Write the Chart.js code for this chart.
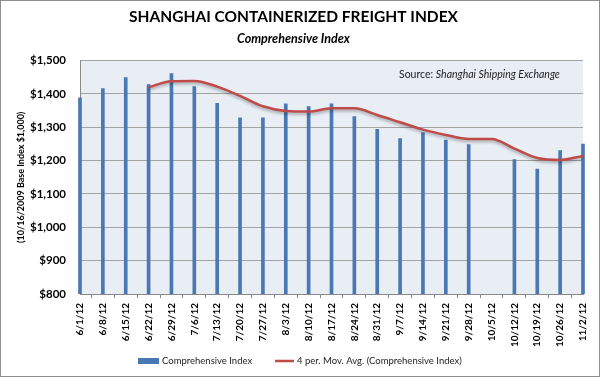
<!DOCTYPE html>
<html>
<head>
<meta charset="utf-8">
<script src="https://cdn.jsdelivr.net/npm/chart.js@4/dist/chart.umd.min.js"></script>
<style>
  html, body { margin: 0; padding: 0; background: #fff; }
</style>
</head>
<body>
<canvas id="chart" width="600" height="377"></canvas>
<script>
// weekly dates
const weeks = ["6/1/12", "6/8/12", "6/15/12", "6/22/12", "6/29/12", "7/6/12", "7/13/12",
  "7/20/12", "7/27/12", "8/3/12", "8/10/12", "8/17/12", "8/24/12", "8/31/12", "9/7/12",
  "9/14/12", "9/21/12", "9/28/12", "10/5/12", "10/12/12", "10/19/12", "10/26/12", "11/2/12"];

// Comprehensive Index (10/5 has no value)
const indexValues = [1388, 1416, 1449, 1428, 1461, 1422, 1372, 1328, 1328, 1370, 1362,
  1370, 1332, 1294, 1266, 1284, 1262, 1248, null, 1203, 1175, 1230, 1250];

// 4 period moving average
const movingAvg = [null, null, null, 1420, 1438, 1439, 1422, 1394, 1363, 1349, 1347,
  1357, 1357, 1337, 1315, 1293, 1277, 1265, 1265, 1236, 1208, 1202, 1214];

// y axis tick labels
const yTicks = [800, 900, 1000, 1100, 1200, 1300, 1400, 1500];

const FONT = "Lato, 'Open Sans', sans-serif";
const BAR_COLOR = "#4a78b4";
const LINE_COLOR = "#be4b48";

// white page, plot background and outer frame
const backdrop = {
  id: "backdrop",
  beforeDraw(chart) {
    const { ctx, chartArea: a } = chart;
    ctx.save();
    ctx.fillStyle = "#fff";
    ctx.fillRect(0, 0, chart.width, chart.height);
    ctx.fillStyle = "#e9eef5";
    ctx.fillRect(a.left, a.top, a.right - a.left, a.bottom - a.top);
    ctx.restore();
  },
  afterDraw(chart) {
    const ctx = chart.ctx;
    ctx.save();
    ctx.strokeStyle = "#8e8e8e";
    ctx.lineWidth = 1;
    ctx.strokeRect(0.5, 0.5, chart.width - 1, chart.height - 1);

    // source note
    ctx.fillStyle = "#222";
    ctx.textBaseline = "middle";
    ctx.font = "10.5px " + FONT;
    ctx.fillText("Source: ", 399, 75);
    const w = ctx.measureText("Source: ").width;
    ctx.font = "italic 10.5px " + FONT;
    ctx.fillText("Shanghai Shipping Exchange", 399 + w, 75);

    // legend
    const ly = 361;
    ctx.fillStyle = BAR_COLOR;
    ctx.fillRect(138, ly - 3, 21, 6);
    ctx.fillStyle = "#222";
    ctx.font = "9.5px " + FONT;
    ctx.fillText(chart.data.datasets[1].label, 162, ly);
    ctx.strokeStyle = LINE_COLOR;
    ctx.lineWidth = 2.5;
    ctx.beginPath();
    ctx.moveTo(275, ly);
    ctx.lineTo(294, ly);
    ctx.stroke();
    ctx.fillText(chart.data.datasets[0].label, 297, ly);
    ctx.restore();
  }
};

// soft shadow under the moving average line
const lineShadow = {
  id: "lineShadow",
  beforeDatasetDraw(chart, args) {
    if (args.index !== 0) return;
    const ctx = chart.ctx;
    ctx.save();
    ctx.shadowColor = "rgba(0,0,0,0.3)";
    ctx.shadowBlur = 3;
    ctx.shadowOffsetY = 2;
  },
  afterDatasetDraw(chart, args) {
    if (args.index !== 0) return;
    chart.ctx.restore();
  }
};

const chart = new Chart(document.getElementById("chart"), {
  type: "bar",
  data: {
    labels: weeks,
    datasets: [
      {
        type: "line",
        label: "4 per. Mov. Avg. (Comprehensive Index)",
        data: movingAvg,
        borderColor: LINE_COLOR,
        borderWidth: 2.5,
        pointRadius: 0,
        cubicInterpolationMode: "monotone",
        order: 0,
      },
      {
        label: "Comprehensive Index",
        data: indexValues,
        backgroundColor: BAR_COLOR,
        barThickness: 3,
        clip: { left: 3, right: 3, top: 0, bottom: 0 },
        order: 1,
      },
    ],
  },
  options: {
    responsive: false,
    animation: false,
    devicePixelRatio: 1,
    layout: { padding: { left: 0, right: 13, top: 0, bottom: 27 } },
    plugins: {
      legend: { display: false },
      tooltip: { enabled: false },
      title: {
        display: true,
        text: "SHANGHAI CONTAINERIZED FREIGHT INDEX",
        color: "#000",
        font: { family: FONT, size: 15.5, weight: "bold" },
        padding: { top: 8, bottom: 1 },
      },
      subtitle: {
        display: true,
        text: "Comprehensive Index",
        color: "#000",
        font: { family: FONT, size: 12.5, weight: "bold", style: "italic" },
        padding: { top: 4, bottom: 14 },
      },
    },
    scales: {
      x: {
        offset: false,
        grid: { drawOnChartArea: false, tickLength: 4, color: "#8a8a8a" },
        border: { display: true, color: "#8a8a8a" },
        ticks: {
          autoSkip: false,
          maxRotation: 90,
          minRotation: 90,
          padding: 5,
          color: "#000",
          font: { family: FONT, size: 10, weight: "bold" },
        },
        afterFit: (scale) => { scale.height = 56; },
      },
      y: {
        min: yTicks[0],
        max: yTicks[yTicks.length - 1],
        grid: { color: "#a3a3a3", drawTicks: false },
        border: { display: true, color: "#8a8a8a" },
        ticks: {
          stepSize: yTicks[1] - yTicks[0],
          padding: 14,
          color: "#000",
          font: { family: FONT, size: 11.5, weight: "bold" },
          callback: (v) => "$" + v.toLocaleString("en-US"),
        },
        title: {
          display: true,
          text: "(10/16/2009 Base Index $1,000)",
          color: "#000",
          font: { family: FONT, size: 9, weight: "bold" },
          padding: { top: 16, bottom: 0 },
        },
        afterFit: (scale) => { scale.width = 80; },
      },
    },
  },
  plugins: [backdrop, lineShadow],
});
</script>
</body>
</html>
